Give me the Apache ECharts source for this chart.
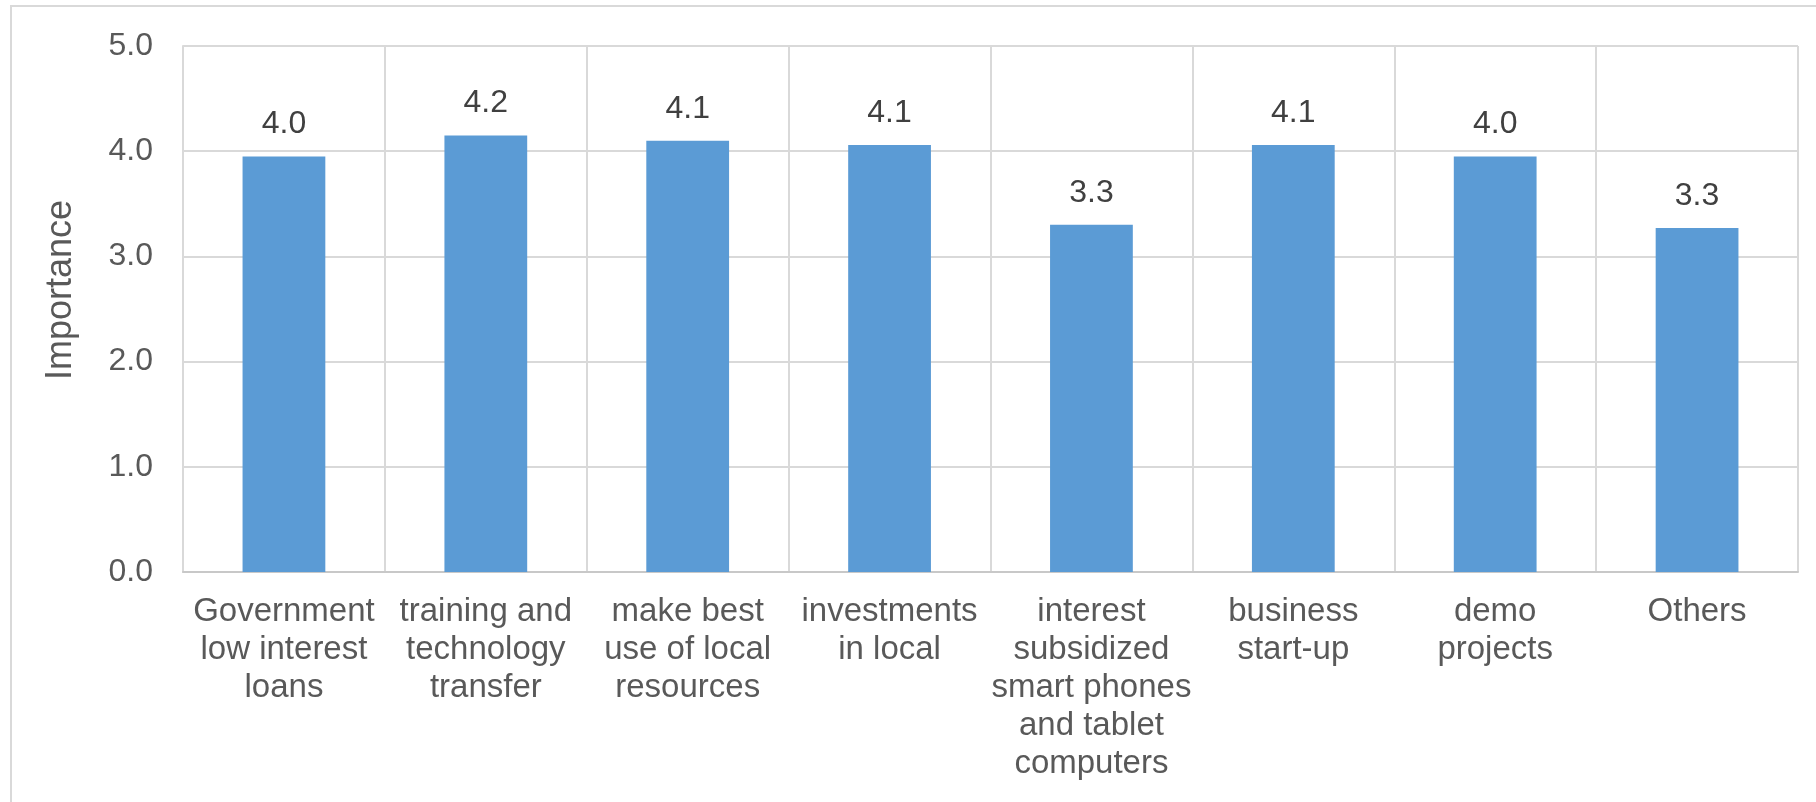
<!DOCTYPE html>
<html>
<head>
<meta charset="utf-8">
<script src="https://cdn.jsdelivr.net/npm/echarts@6/dist/echarts.min.js"></script>
<style>
html,body{margin:0;padding:0;background:#fff;}
#chart{width:1816px;height:802px;}
</style>
</head>
<body>
<div id="chart"></div>
<script>
const categories = [
  'Government\nlow interest\nloans',
  'training and\ntechnology\ntransfer',
  'make best\nuse of local\nresources',
  'investments\nin local',
  'interest\nsubsidized\nsmart phones\nand tablet\ncomputers',
  'business\nstart-up',
  'demo\nprojects',
  'Others'
];
const importance = [3.95, 4.15, 4.10, 4.06, 3.30, 4.06, 3.95, 3.27];
const yTicks = { min: 0, max: 5, interval: 1 };
const yAxisTitle = 'Importance';

const FONT = '"Liberation Sans", Arial, sans-serif';
const chart = echarts.init(document.getElementById('chart'), null, { renderer: 'canvas' });
chart.setOption({
  animation: false,
  backgroundColor: '#ffffff',
  graphic: [{
    type: 'rect',
    shape: { x: 11, y: 6, width: 1900, height: 900 },
    style: { fill: 'none', stroke: '#d9d9d9', lineWidth: 2 },
    silent: true
  }],
  grid: { left: 183, right: 18, top: 46, bottom: 230, containLabel: false },
  xAxis: {
    type: 'category',
    data: categories,
    axisLine: { show: true, lineStyle: { color: '#c8c8c8', width: 2 } },
    axisTick: { show: false },
    splitLine: { show: true, lineStyle: { color: '#d9d9d9', width: 2 } },
    axisLabel: {
      interval: 0,
      color: '#595959',
      fontFamily: FONT,
      fontSize: 33,
      lineHeight: 38,
      margin: 21,
      align: 'center'
    }
  },
  yAxis: {
    type: 'value',
    min: yTicks.min,
    max: yTicks.max,
    interval: yTicks.interval,
    name: yAxisTitle,
    nameLocation: 'middle',
    nameRotate: 90,
    nameGap: 104,
    nameTextStyle: { color: '#595959', fontFamily: FONT, fontSize: 36, padding: [0, 0, 0, 38] },
    axisLine: { show: true, lineStyle: { color: '#d9d9d9', width: 2 } },
    axisTick: { show: false },
    splitLine: { show: true, lineStyle: { color: '#d9d9d9', width: 2 } },
    axisLabel: {
      color: '#595959',
      fontFamily: FONT,
      fontSize: 32,
      margin: 30,
      formatter: v => v.toFixed(1)
    }
  },
  series: [{
    type: 'bar',
    data: importance,
    barWidth: '41%',
    itemStyle: { color: '#5b9bd5' },
    label: {
      show: true,
      position: 'top',
      distance: 16,
      color: '#404040',
      fontFamily: FONT,
      fontSize: 32,
      formatter: p => p.value.toFixed(1)
    }
  }]
});
</script>
</body>
</html>
